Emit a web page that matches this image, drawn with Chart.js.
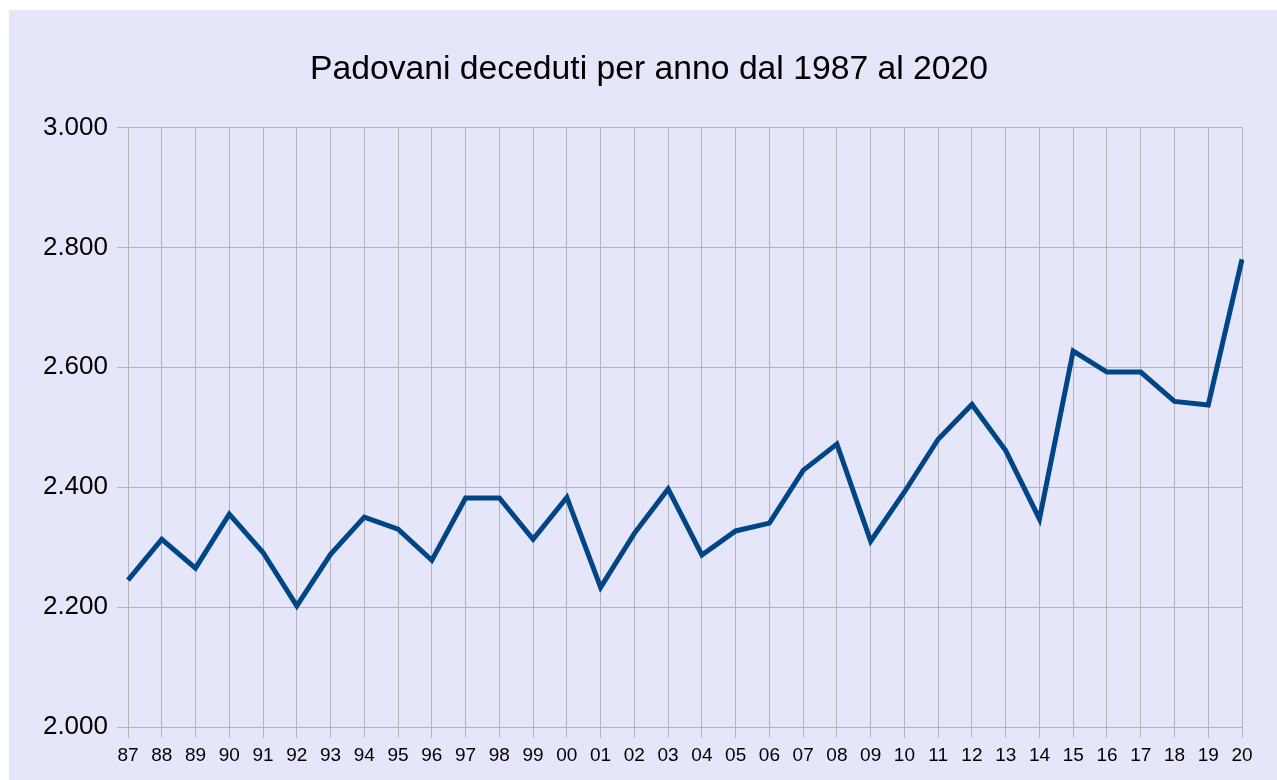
<!DOCTYPE html>
<html lang="it">
<head>
<meta charset="UTF-8">
<title>Padovani deceduti</title>
<script src="https://cdn.jsdelivr.net/npm/chart.js"></script>
<style>
    body { margin: 0; background: #ffffff; }
    #box { width: 1277px; height: 780px; }
</style>
</head>
<body>
<div id="box"><canvas id="grafico" width="1277" height="780"></canvas></div>
<script>
// dati
const anni = ['87','88','89','90','91','92','93','94','95','96','97','98','99','00','01','02','03',
              '04','05','06','07','08','09','10','11','12','13','14','15','16','17','18','19','20'];
const deceduti = [2245, 2313, 2265, 2355, 2291, 2202, 2288, 2350, 2330, 2278, 2382, 2382, 2313, 2383, 2233, 2323, 2397,
                  2287, 2327, 2340, 2428, 2472, 2310, 2392, 2480, 2538, 2461, 2347, 2627, 2592, 2592, 2543, 2537, 2780];
const yTicks = [2000, 2200, 2400, 2600, 2800, 3000];

const sfondo = {
    id: 'sfondo',
    afterLayout(chart) {
        // titolo centrato sul riquadro colorato, non sull'area del grafico
        const t = chart.titleBlock;
        if (t) { t.left += 13; t.right += 13; }
    },
    beforeDraw(chart) {
        const c = chart.ctx;
        c.save();
        c.fillStyle = '#e6e6fa';
        c.fillRect(9, 10, chart.width - 9, chart.height - 10);
        c.restore();
    }
};

const griglia = '#b3b3b3';

new Chart(document.getElementById('grafico'), {
    type: 'line',
    data: {
        labels: anni,
        datasets: [{
            data: deceduti,
            borderColor: '#004586',
            borderWidth: 5,
            pointRadius: 0,
            tension: 0,
            fill: false
        }]
    },
    options: {
        responsive: false,
        animation: false,
        layout: { padding: { left: 30, right: 35, top: 0, bottom: 0 } },
        plugins: {
            legend: { display: false },
            tooltip: { enabled: false },
            title: {
                display: true,
                text: 'Padovani deceduti per anno dal 1987 al 2020',
                color: '#000000',
                font: { family: 'Liberation Sans', size: 33.7, weight: 'normal', lineHeight: 1.2 },
                padding: { top: 49.5, bottom: 37.5 }
            }
        },
        scales: {
            x: {
                offset: false,
                grid: { color: griglia, lineWidth: 1, tickLength: 11, drawOnChartArea: true },
                border: { color: griglia, width: 1 },
                ticks: {
                    color: '#000000',
                    autoSkip: false,
                    maxRotation: 0,
                    padding: 6,
                    font: { family: 'Liberation Sans', size: 19 }
                },
                afterFit(scale) { scale.height = 53; }
            },
            y: {
                min: 2000,
                max: 3000,
                grid: { color: griglia, lineWidth: 1, tickLength: 11 },
                border: { color: griglia, width: 1 },
                afterBuildTicks(scale) { scale.ticks = yTicks.map(v => ({ value: v })); },
                ticks: {
                    color: '#000000',
                    padding: 9,
                    font: { family: 'Liberation Sans', size: 26 },
                    callback: v => String(v).replace(/^(\d)(\d{3})$/, '$1.$2')
                },
                afterFit(scale) { scale.width = 98; }
            }
        }
    },
    plugins: [sfondo]
});
</script>
</body>
</html>
